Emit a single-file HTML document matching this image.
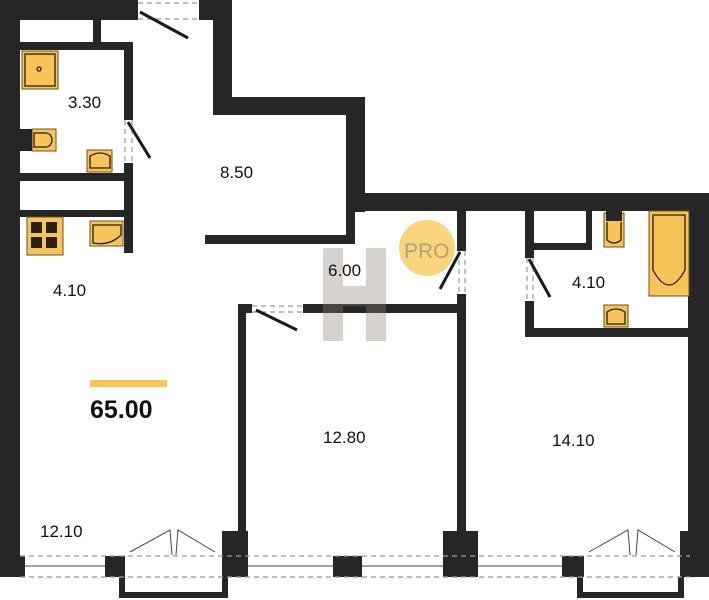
<!DOCTYPE html>
<html><head><meta charset="utf-8"><style>
html,body{margin:0;padding:0;background:#fff;}
svg{display:block;}
text{font-family:"Liberation Sans",sans-serif;fill:#111;}
</style></head><body>
<svg width="709" height="600" viewBox="0 0 709 600" xmlns="http://www.w3.org/2000/svg">
<g fill="#262626">
<!-- top-left -->
<rect x="0" y="0" width="138" height="20"/>
<rect x="0" y="0" width="20" height="577"/>
<rect x="199" y="0" width="33" height="20"/>
<rect x="213" y="0" width="19" height="115"/>
<rect x="213" y="97" width="152" height="18"/>
<rect x="346" y="97" width="19" height="115"/>
<rect x="346" y="193" width="363" height="18"/>
<rect x="688" y="193" width="21" height="384"/>
<!-- bathroom 3.30 -->
<rect x="93" y="20" width="8" height="28"/>
<rect x="20" y="42" width="113" height="8"/>
<rect x="124" y="42" width="9" height="78"/>
<rect x="124" y="163" width="9" height="90"/>
<rect x="20" y="173" width="113" height="8"/>
<rect x="20" y="210" width="113" height="7"/>
<!-- 8.50 bottom -->
<rect x="205" y="235" width="150" height="9"/>
<rect x="346" y="200" width="9" height="44"/>
<!-- 12.80 -->
<rect x="238" y="304" width="8" height="235"/>
<rect x="238" y="304" width="14" height="9"/>
<rect x="303" y="304" width="163" height="9"/>
<rect x="457" y="211" width="9" height="40"/>
<rect x="457" y="294" width="9" height="245"/>
<!-- right bath -->
<rect x="525" y="211" width="9" height="47"/>
<rect x="525" y="301" width="9" height="35"/>
<rect x="525" y="328" width="175" height="9"/>
<rect x="586" y="211" width="6" height="39"/>
<rect x="534" y="243" width="58" height="7"/>
<!-- piers -->
<rect x="105" y="556" width="20" height="21"/>
<rect x="222" y="531" width="26" height="46"/>
<rect x="333" y="556" width="29" height="21"/>
<rect x="443" y="531" width="35" height="46"/>
<rect x="562" y="556" width="22" height="21"/>
<rect x="680" y="531" width="29" height="46"/>
<rect x="0" y="556" width="25" height="21"/>
</g>
<!-- balconies -->
<g fill="none" stroke="#262626" stroke-width="6">
<path d="M122 577 V595 H225 V577"/>
<path d="M580 577 V595 H681 V577"/>
</g>
<!-- windows -->
<g stroke="#999" stroke-width="1.2" stroke-dasharray="5,4" fill="none">
<line x1="20" y1="556" x2="690" y2="556"/>
<line x1="20" y1="577" x2="690" y2="577"/>
<line x1="138" y1="3" x2="199" y2="3"/>
<line x1="138" y1="19" x2="199" y2="19"/>
<line x1="252" y1="306" x2="303" y2="306"/>
<line x1="252" y1="312" x2="303" y2="312"/>
<line x1="125" y1="120" x2="125" y2="163"/>
<line x1="132" y1="120" x2="132" y2="163"/>
<line x1="459" y1="251" x2="459" y2="294"/>
<line x1="465" y1="251" x2="465" y2="294"/>
<line x1="527" y1="258" x2="527" y2="301"/>
<line x1="533" y1="258" x2="533" y2="301"/>
</g>
<g stroke="#444" stroke-width="1" fill="none">
<line x1="25" y1="566" x2="105" y2="566"/>
<line x1="248" y1="566" x2="333" y2="566"/>
<line x1="362" y1="566" x2="443" y2="566"/>
<line x1="478" y1="566" x2="562" y2="566"/>
<path d="M130 552 L170 530 L172 555 M215 552 L178 530 L176 555"/>
<path d="M589 552 L628 530 L630 555 M675 552 L638 530 L636 555"/>
</g>
<!-- door leaves -->
<g stroke="#1a1a1a" stroke-width="3" fill="none">
<line x1="140" y1="12" x2="188" y2="38"/>
<line x1="128" y1="122" x2="150" y2="158"/>
<line x1="256" y1="310" x2="297" y2="330"/>
<line x1="460" y1="252" x2="440" y2="289"/>
<line x1="529" y1="259" x2="550" y2="297"/>
</g>
<!-- watermark -->
<g fill="#8a8078" opacity="0.35">
<rect x="323" y="248" width="20" height="93"/>
<rect x="366" y="248" width="20" height="93"/>
<rect x="343" y="286" width="23" height="20"/>
</g>
<!-- PRO -->
<circle cx="427" cy="248" r="28" fill="#f9d67c"/>
<text x="404" y="258" font-size="21" style="fill:#b59f78">PRO</text>
<!-- fixtures -->
<g fill="#f7c45a" stroke="#6b5320" stroke-width="1">
<rect x="22" y="51" width="36" height="38"/>
<rect x="32" y="129" width="24" height="22"/>
<rect x="87" y="150" width="25" height="22"/>
<rect x="27" y="217" width="36" height="38"/>
<rect x="90" y="221" width="33" height="25"/>
<rect x="604" y="213" width="20" height="34"/>
<rect x="649" y="211" width="40" height="85"/>
<rect x="604" y="305" width="24" height="22"/>
</g>
<rect x="20" y="129" width="12" height="22" fill="#262626"/>
<rect x="606" y="211" width="16" height="10" fill="#262626"/>
<g fill="none" stroke="#2a1f08" stroke-width="1.3">
<rect x="25" y="54" width="30" height="32"/>
<circle cx="39" cy="69" r="2"/>
<path d="M34 133 H46 a6 7 0 0 1 0 14 H34 Z"/>
<path d="M90 168 V156 Q100 150 110 156 V168 Z"/>
<path d="M93 243 V225 H121 V235 Q110 246 93 243 Z"/>
<path d="M607 222 V240 Q614 246 621 240 V222"/>
<path d="M653 215 H685 V270 Q669 300 653 270 Z"/>
<path d="M607 324 V312 Q616 306 625 312 V324 Z"/>
</g>
<g fill="#2a1f08">
<rect x="31" y="222" width="11" height="11"/><rect x="46" y="222" width="11" height="11"/>
<rect x="31" y="237" width="11" height="11"/><rect x="46" y="237" width="11" height="11"/>
</g>
<!-- labels -->
<g font-size="17">
<text x="68" y="108">3.30</text>
<text x="220" y="178">8.50</text>
<text x="53" y="296">4.10</text>
<text x="328" y="276">6.00</text>
<text x="572" y="288">4.10</text>
<text x="323" y="443">12.80</text>
<text x="552" y="446">14.10</text>
<text x="40" y="537">12.10</text>
</g>
<rect x="90" y="380" width="77" height="7" fill="#f7c45a"/>
<text x="90" y="418" font-size="25" font-weight="bold">65.00</text>
</svg>
</body></html>
